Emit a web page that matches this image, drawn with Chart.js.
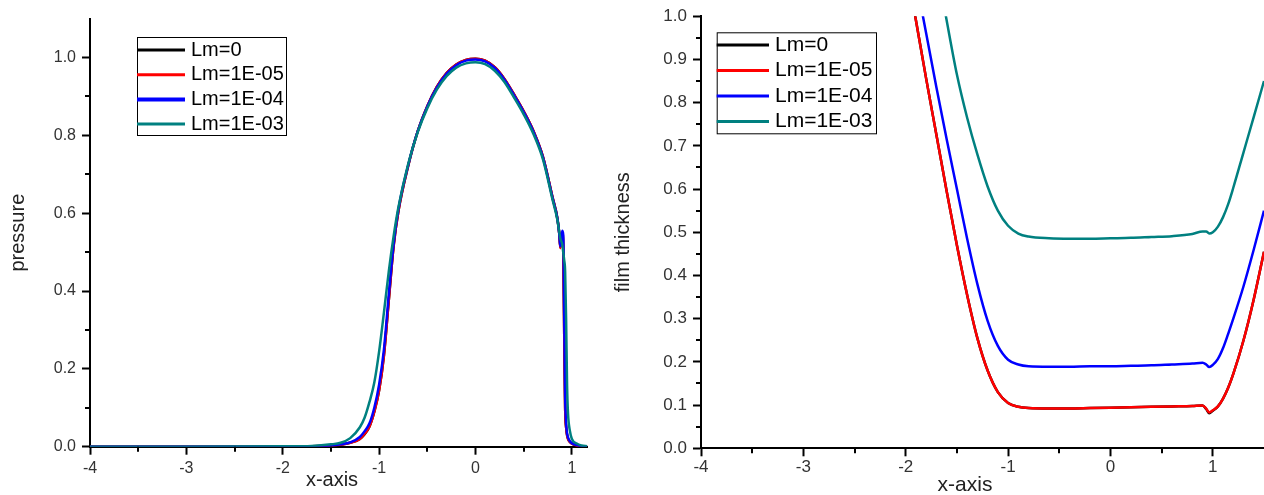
<!DOCTYPE html>
<html>
<head>
<meta charset="utf-8">
<title>pressure / film thickness</title>
<script src="https://cdn.jsdelivr.net/npm/chart.js@4.4.1/dist/chart.umd.min.js"></script>
<style>
    html, body { margin: 0; padding: 0; background: #fff; overflow: hidden; }
    .painel { position: absolute; top: 0; }
    #painel-pressao { left: 0; }
    #painel-filme { left: 610px; }
</style>
</head>
<body>
<div class="painel" id="painel-pressao"><canvas id="grafico-pressao" width="610" height="495"></canvas></div>
<div class="painel" id="painel-filme"><canvas id="grafico-filme" width="654" height="495"></canvas></div>
<script>
// Series names and colours
const rotulos = ['Lm=0', 'Lm=1E-05', 'Lm=1E-04', 'Lm=1E-03'];
const cores = ['#000000', '#ff0000', '#0000ff', '#008080'];

// Pressure (left panel)
const pressaoX = [-4, -3, -2, -1.7, -1.5, -1.4, -1.3, -1.2, -1.15, -1.1, -1.05, -1.0, -0.95, -0.9, -0.85, -0.8,
    -0.7, -0.6, -0.5, -0.4, -0.3, -0.2, -0.1, 0, 0.1, 0.2, 0.3, 0.4, 0.5, 0.6, 0.7, 0.8,
    0.85, 0.87, 0.88, 0.9, 0.91, 0.92, 0.93, 0.94, 0.95, 0.96, 0.98, 1.0, 1.05, 1.1, 1.16];
const pressaoLm0 = [0, 0, 0, 0.001, 0.003, 0.005, 0.01, 0.02, 0.032, 0.052, 0.09, 0.145, 0.235, 0.375, 0.515, 0.605,
    0.72, 0.81, 0.875, 0.925, 0.96, 0.982, 0.994, 0.997, 0.992, 0.975, 0.945, 0.905, 0.862, 0.812, 0.745, 0.64,
    0.587, 0.545, 0.512, 0.55, 0.52, 0.30, 0.10, 0.05, 0.03, 0.02, 0.012, 0.008, 0.003, 0.001, 0];
const pressaoLm1e5 = [0, 0, 0, 0.001, 0.003, 0.005, 0.01, 0.02, 0.033, 0.052, 0.09, 0.145, 0.235, 0.375, 0.515, 0.605,
    0.72, 0.81, 0.875, 0.925, 0.96, 0.982, 0.994, 0.997, 0.992, 0.975, 0.945, 0.905, 0.862, 0.812, 0.745, 0.64,
    0.585, 0.545, 0.51, 0.55, 0.52, 0.30, 0.10, 0.05, 0.03, 0.02, 0.012, 0.008, 0.003, 0.001, 0];
const pressaoLm1e4 = [0, 0, 0, 0.001, 0.003, 0.006, 0.011, 0.025, 0.04, 0.06, 0.10, 0.16, 0.25, 0.39, 0.52, 0.61,
    0.722, 0.81, 0.874, 0.923, 0.958, 0.98, 0.992, 0.995, 0.99, 0.973, 0.943, 0.903, 0.86, 0.81, 0.743, 0.638,
    0.585, 0.545, 0.515, 0.555, 0.545, 0.35, 0.13, 0.06, 0.035, 0.024, 0.014, 0.009, 0.004, 0.001, 0];
const pressaoLm1e3 = [0, 0, 0.001, 0.002, 0.006, 0.01, 0.022, 0.05, 0.075, 0.115, 0.165, 0.245, 0.345, 0.45, 0.54, 0.615,
    0.725, 0.808, 0.87, 0.918, 0.952, 0.974, 0.985, 0.988, 0.983, 0.966, 0.937, 0.897, 0.854, 0.804, 0.738, 0.634,
    0.582, 0.55, 0.535, 0.52, 0.5, 0.48, 0.45, 0.33, 0.16, 0.085, 0.04, 0.02, 0.008, 0.003, 0.001];
const pressaoTicksX = [-4, -3, -2, -1, 0, 1];
const pressaoMinorX = [-3.5, -2.5, -1.5, -0.5, 0.5];
const pressaoTicksY = [0, 0.2, 0.4, 0.6, 0.8, 1.0];
const pressaoMinorY = [0.1, 0.3, 0.5, 0.7, 0.9];

// Film thickness (right panel)
const filmeX = [-2.1, -2.0, -1.9, -1.8, -1.7, -1.6, -1.5, -1.4, -1.3, -1.2, -1.1, -1.0, -0.9, -0.8, -0.6, -0.4,
    -0.2, 0, 0.2, 0.4, 0.6, 0.8, 0.9, 0.935, 0.965, 1.0, 1.05, 1.1, 1.15, 1.2, 1.3, 1.4, 1.5];
const filmeLm0 = [1.27, 1.125, 0.99, 0.855, 0.725, 0.595, 0.47, 0.355, 0.255, 0.18, 0.13, 0.105, 0.096, 0.093, 0.092, 0.092,
    0.093, 0.094, 0.095, 0.096, 0.097, 0.098, 0.099, 0.091, 0.081, 0.087, 0.097, 0.115, 0.14, 0.172, 0.25, 0.345, 0.455];
const filmeLm1e5 = [1.27, 1.125, 0.99, 0.855, 0.725, 0.595, 0.47, 0.355, 0.255, 0.18, 0.13, 0.105, 0.096, 0.093, 0.092, 0.092,
    0.093, 0.094, 0.095, 0.096, 0.097, 0.098, 0.099, 0.092, 0.083, 0.088, 0.097, 0.115, 0.14, 0.172, 0.25, 0.345, 0.455];
const filmeLm1e4 = [1.35, 1.215, 1.085, 0.96, 0.835, 0.715, 0.6, 0.485, 0.38, 0.295, 0.237, 0.205, 0.194, 0.19, 0.189, 0.189,
    0.19, 0.19, 0.191, 0.192, 0.194, 0.196, 0.198, 0.194, 0.188, 0.193, 0.207, 0.232, 0.265, 0.30, 0.375, 0.46, 0.55];
const filmeLm1e3 = [1.64, 1.51, 1.38, 1.25, 1.12, 0.99, 0.865, 0.765, 0.68, 0.606, 0.55, 0.515, 0.497, 0.49, 0.486, 0.485,
    0.485, 0.486, 0.487, 0.489, 0.491, 0.496, 0.502, 0.502, 0.497, 0.5, 0.513, 0.535, 0.565, 0.603, 0.685, 0.767, 0.85];
const filmeTicksX = [-4, -3, -2, -1, 0, 1];
const filmeMinorX = [-3.5, -2.5, -1.5, -0.5, 0.5];
const filmeTicksY = [0, 0.1, 0.2, 0.3, 0.4, 0.5, 0.6, 0.7, 0.8, 0.9, 1.0];
const filmeMinorY = [0.05, 0.15, 0.25, 0.35, 0.45, 0.55, 0.65, 0.75, 0.85, 0.95];

const FONTE = "'Liberation Sans', Arial, Helvetica, sans-serif";
Chart.defaults.font.family = FONTE;

// Minor ticks, Chart.js has none of its own
const ticksMenores = {
    id: 'ticksMenores',
    afterDraw(chart, args, opts) {
        const { ctx, scales: { x, y } } = chart;
        ctx.save();
        ctx.strokeStyle = '#000';
        ctx.lineWidth = 2;
        ctx.beginPath();
        opts.x.forEach(v => {
            const px = Math.round(x.getPixelForValue(v));
            ctx.moveTo(px, x.top);
            ctx.lineTo(px, x.top + 5);
        });
        opts.y.forEach(v => {
            const py = Math.round(y.getPixelForValue(v));
            ctx.moveTo(y.right - 5, py);
            ctx.lineTo(y.right, py);
        });
        ctx.stroke();
        ctx.restore();
    }
};

// Boxed legend inside the plot, in dataset order
const caixaLegenda = {
    id: 'caixaLegenda',
    afterDraw(chart, args, o) {
        const ctx = chart.ctx;
        ctx.save();
        ctx.strokeStyle = '#000';
        ctx.lineWidth = 1;
        ctx.strokeRect(o.x + 0.5, o.y + 0.5, o.w, o.h);
        ctx.font = `${o.tamanho}px ${FONTE}`;
        ctx.textBaseline = 'middle';
        ctx.fillStyle = '#000';
        chart.data.datasets.forEach((ds, i) => {
            const cy = o.y + o.primeira + i * o.linha;
            ctx.strokeStyle = ds.borderColor;
            ctx.lineWidth = o.espessuras[i];
            ctx.beginPath();
            ctx.moveTo(o.x, cy);
            ctx.lineTo(o.x + o.comprimento, cy);
            ctx.stroke();
            ctx.fillText(ds.label, o.x + o.textoX, cy);
        });
        ctx.restore();
    }
};

// x-axis title placed where the original has it
const tituloX = {
    id: 'tituloX',
    afterDraw(chart, args, o) {
        const ctx = chart.ctx;
        ctx.save();
        ctx.font = `${o.tamanho}px ${FONTE}`;
        ctx.fillStyle = '#222';
        ctx.textAlign = 'center';
        ctx.textBaseline = 'middle';
        ctx.fillText(o.texto, o.x, o.y);
        ctx.restore();
    }
};

function montarSeries(xs, listas, largura) {
    // black under red under blue under teal
    return listas.map((ys, i) => ({
        label: rotulos[i],
        data: xs.map((x, j) => ({ x, y: ys[j] })),
        borderColor: cores[i],
        backgroundColor: cores[i],
        borderWidth: largura,
        pointRadius: 0,
        cubicInterpolationMode: 'monotone',
        order: listas.length - i
    }));
}

function eixo(cfg) {
    return {
        type: 'linear',
        min: cfg.min,
        max: cfg.max,
        afterFit: s => {
            if (cfg.largura) s.width = cfg.largura;
            if (cfg.altura) s.height = cfg.altura;
        },
        afterBuildTicks: s => { s.ticks = cfg.ticks.map(v => ({ value: v })); },
        ticks: {
            callback: cfg.formato,
            color: '#333',
            font: { size: cfg.fonte },
            padding: cfg.padding,
            maxRotation: 0,
            autoSkip: false
        },
        grid: { drawOnChartArea: false, drawTicks: true, tickLength: 8, tickWidth: 2, tickColor: '#000' },
        border: { display: true, color: '#000', width: 2 },
        title: cfg.titulo ? {
            display: true,
            text: cfg.titulo,
            color: '#222',
            font: { size: cfg.fonteTitulo },
            padding: { top: cfg.paddingTitulo, bottom: 0 }
        } : { display: false }
    };
}

new Chart(document.getElementById('grafico-pressao'), {
    type: 'line',
    data: { datasets: montarSeries(pressaoX, [pressaoLm0, pressaoLm1e5, pressaoLm1e4, pressaoLm1e3], 2.5) },
    options: {
        responsive: false,
        animation: false,
        events: [],
        layout: { padding: { left: 0, right: 22.7, top: 18.6, bottom: 0 } },
        scales: {
            x: eixo({ min: -4, max: 1.16, altura: 48.3, ticks: pressaoTicksX, formato: v => String(v), fonte: 16, padding: 4 }),
            y: eixo({ min: 0, max: 1.1, largura: 90, ticks: pressaoTicksY, formato: v => v.toFixed(1), fonte: 16, padding: 6,
                titulo: 'pressure', fonteTitulo: 20, paddingTitulo: 6 })
        },
        plugins: {
            legend: { display: false },
            tooltip: { enabled: false },
            ticksMenores: { x: pressaoMinorX, y: pressaoMinorY },
            caixaLegenda: { x: 137, y: 37, w: 149, h: 98, primeira: 13, linha: 24.7, comprimento: 48, textoX: 54,
                tamanho: 20, espessuras: [3, 3, 4, 3] },
            tituloX: { texto: 'x-axis', x: 332, y: 480, tamanho: 20 }
        }
    },
    plugins: [ticksMenores, caixaLegenda, tituloX]
});

new Chart(document.getElementById('grafico-filme'), {
    type: 'line',
    data: { datasets: montarSeries(filmeX, [filmeLm0, filmeLm1e5, filmeLm1e4, filmeLm1e3], 2.5) },
    options: {
        responsive: false,
        animation: false,
        events: [],
        layout: { padding: { left: 0, right: 0, top: 14.7, bottom: 0 } },
        scales: {
            x: eixo({ min: -4, max: 1.5, altura: 46.7, ticks: filmeTicksX, formato: v => String(v), fonte: 17, padding: 1 }),
            y: eixo({ min: 0, max: 1.0, largura: 91, ticks: filmeTicksY, formato: v => v.toFixed(1), fonte: 17, padding: 6,
                titulo: 'film thickness', fonteTitulo: 20, paddingTitulo: 1 })
        },
        plugins: {
            legend: { display: false },
            tooltip: { enabled: false },
            ticksMenores: { x: filmeMinorX, y: filmeMinorY },
            caixaLegenda: { x: 106.7, y: 32.3, w: 159.3, h: 101, primeira: 12.7, linha: 25.5, comprimento: 52.3, textoX: 58.3,
                tamanho: 21, espessuras: [3, 3, 3, 3] },
            tituloX: { texto: 'x-axis', x: 355, y: 485, tamanho: 21 }
        }
    },
    plugins: [ticksMenores, caixaLegenda, tituloX]
});
</script>
</body>
</html>
